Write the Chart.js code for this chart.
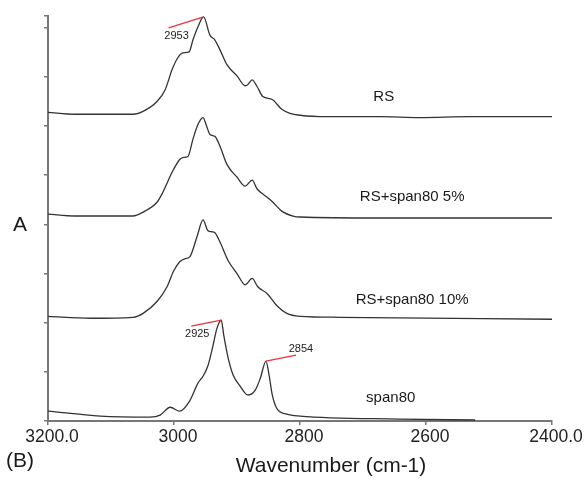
<!DOCTYPE html>
<html>
<head>
<meta charset="utf-8">
<script src="https://cdn.jsdelivr.net/npm/chart.js@4/dist/chart.umd.min.js"></script>
<style>
  html, body { margin: 0; padding: 0; background: #fff; }
  #wrap { width: 584px; height: 480px; }
</style>
</head>
<body>
<div id="wrap"><canvas id="irChart" width="584" height="480"></canvas></div>
<script>
// spectra (wavenumber in cm-1, stacked absorbance in tick units)
const rsWn = [3200, 3157, 3065, 3049, 3027, 3014, 3003, 2994, 2986, 2976, 2970, 2962, 2953, 2943, 2935, 2927, 2916, 2900, 2887, 2883, 2876, 2868, 2859, 2844, 2829, 2816, 2800, 2757, 2673, 2610, 2530, 2400];
const rsVal = [6.28, 6.24, 6.24, 6.30, 6.50, 6.74, 7.15, 7.39, 7.49, 7.51, 7.75, 8.02, 8.22, 7.85, 7.75, 7.55, 7.25, 7.02, 6.82, 6.84, 6.94, 6.80, 6.60, 6.54, 6.34, 6.26, 6.22, 6.19, 6.19, 6.17, 6.19, 6.19];

const rs5Wn = [3200, 3157, 3065, 3049, 3027, 3019, 3003, 2991, 2986, 2978, 2970, 2962, 2954, 2948, 2943, 2935, 2927, 2916, 2900, 2887, 2876, 2868, 2852, 2843, 2829, 2811, 2800, 2673, 2400];
const rs5Val = [4.21, 4.17, 4.17, 4.25, 4.45, 4.62, 5.06, 5.32, 5.36, 5.38, 5.73, 6.03, 6.17, 5.99, 5.83, 5.79, 5.59, 5.22, 4.96, 4.78, 4.90, 4.72, 4.55, 4.45, 4.27, 4.17, 4.15, 4.13, 4.13];

const rs10Wn = [3200, 3133, 3065, 3049, 3027, 3011, 3001, 2991, 2983, 2975, 2963, 2954, 2946, 2940, 2935, 2927, 2914, 2900, 2887, 2876, 2867, 2852, 2837, 2821, 2800, 2737, 2400];
const rs10Val = [2.13, 2.09, 2.11, 2.19, 2.43, 2.73, 3.04, 3.24, 3.30, 3.34, 3.77, 4.09, 3.87, 3.85, 3.83, 3.64, 3.26, 3.00, 2.77, 2.90, 2.73, 2.59, 2.35, 2.19, 2.13, 2.11, 2.07];

const spanWn = [3200, 3117, 3038, 3022, 3006, 2991, 2975, 2962, 2954, 2946, 2938, 2932, 2925, 2921, 2914, 2906, 2895, 2883, 2871, 2863, 2854, 2849, 2844, 2837, 2821, 2800, 2641, 2522];
const spanVal = [0.20, 0.10, 0.08, 0.12, 0.28, 0.20, 0.41, 0.77, 0.91, 1.13, 1.54, 1.88, 2.05, 1.74, 1.28, 0.93, 0.71, 0.53, 0.63, 0.87, 1.22, 0.93, 0.53, 0.26, 0.14, 0.10, 0.04, 0.02];

const seriesNames = ['RS', 'RS+span80 5%', 'RS+span80 10%', 'span80'];

// marked peaks
const peakWn = [2953, 2925, 2854];
const peakVal = [8.22, 2.05, 1.22];
const peakText = ['2953', '2925', '2854'];

const xTicks = [3200, 3000, 2800, 2600, 2400];
const yMax = 8.239;

function toPoints(wn, val) {
    return wn.map((w, i) => ({ x: w, y: val[i] }));
}

const FONT = '"Liberation Sans", Arial, Helvetica, sans-serif';

// text and red peak markers on top of the chart
const annotate = {
    id: 'annotate',
    afterDraw(chart) {
        const ctx = chart.ctx;
        const xs = chart.scales.x, ys = chart.scales.y;
        ctx.save();

        // peak markers
        const lineEnd = [[-35, 11], [-30, 6], [30, -6]];
        const textAt = [[-27, 19], [-24, 14], [35, -12]];
        ctx.font = '11px ' + FONT;
        ctx.textAlign = 'center';
        ctx.textBaseline = 'middle';
        peakWn.forEach((w, i) => {
            const px = xs.getPixelForValue(w);
            const py = ys.getPixelForValue(peakVal[i]);
            ctx.strokeStyle = '#e8333f';
            ctx.lineWidth = 1.3;
            ctx.beginPath();
            ctx.moveTo(px, py);
            ctx.lineTo(px + lineEnd[i][0], py + lineEnd[i][1]);
            ctx.stroke();
            ctx.fillStyle = '#222';
            ctx.fillText(peakText[i], px + textAt[i][0], py + textAt[i][1]);
        });

        // series names
        const nameAt = [[2667, 6.60], [2622, 4.55], [2622, 2.47], [2656, 0.47]];
        ctx.font = '15px ' + FONT;
        ctx.fillStyle = '#1a1a1a';
        seriesNames.forEach((n, i) => {
            ctx.fillText(n, xs.getPixelForValue(nameAt[i][0]), ys.getPixelForValue(nameAt[i][1]));
        });

        // axis title and panel letters
        ctx.font = '21px ' + FONT;
        ctx.fillText('Wavenumber (cm-1)', 331, 466);
        ctx.fillText('A', 20, 225);
        ctx.fillText('(B)', 20, 461);
        ctx.restore();
    }
};

const lineStyle = {
    borderColor: '#333',
    borderWidth: 1.3,
    pointRadius: 0,
    fill: false,
    clip: false,
    cubicInterpolationMode: 'monotone'
};

new Chart(document.getElementById('irChart'), {
    type: 'line',
    data: {
        datasets: [
            Object.assign({ label: seriesNames[0], data: toPoints(rsWn, rsVal) }, lineStyle),
            Object.assign({ label: seriesNames[1], data: toPoints(rs5Wn, rs5Val) }, lineStyle),
            Object.assign({ label: seriesNames[2], data: toPoints(rs10Wn, rs10Val) }, lineStyle),
            Object.assign({ label: seriesNames[3], data: toPoints(spanWn, spanVal) }, lineStyle)
        ]
    },
    options: {
        responsive: false,
        animation: false,
        layout: { padding: { left: 44, right: 32, top: 16, bottom: 30 } },
        plugins: {
            legend: { display: false },
            tooltip: { enabled: false }
        },
        scales: {
            x: {
                type: 'linear',
                min: 2400,
                max: 3200,
                reverse: true,
                afterBuildTicks: (scale) => { scale.ticks = xTicks.map(v => ({ value: v })); },
                ticks: {
                    font: { family: FONT, size: 17.5 },
                    color: '#222',
                    labelOffset: 4,
                    padding: 2,
                    maxRotation: 0,
                    callback: (v) => (v === 3200 || v === 2400) ? v.toFixed(1) : String(v)
                },
                grid: { drawOnChartArea: false, drawTicks: true, tickLength: 4, color: '#777', lineWidth: 1.5 },
                border: { display: true, color: '#777', width: 2 }
            },
            y: {
                min: 0,
                max: yMax,
                afterBuildTicks: (scale) => {
                    const t = [];
                    for (let v = 0; v <= 8; v++) t.push({ value: v });
                    t.push({ value: yMax });
                    scale.ticks = t;
                },
                ticks: { display: false },
                grid: { drawOnChartArea: false, drawTicks: true, tickLength: 4, color: '#777', lineWidth: 1.5 },
                border: { display: true, color: '#777', width: 2 }
            }
        }
    },
    plugins: [annotate]
});
</script>
</body>
</html>
